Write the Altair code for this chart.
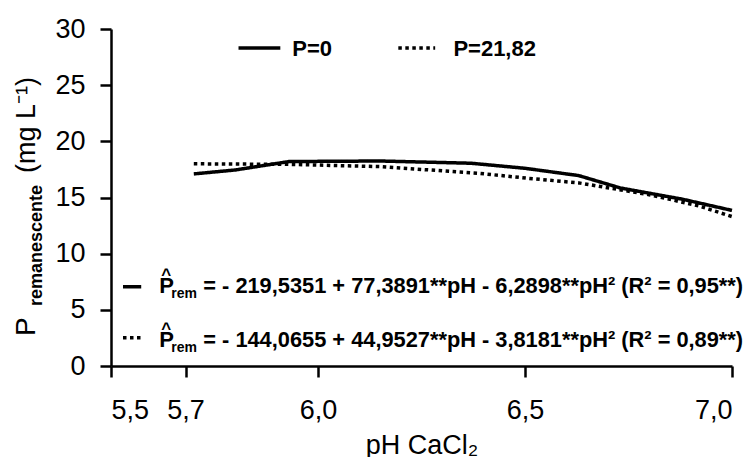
import altair as alt
import pandas as pd

# ---------------- data ----------------
series = ["P=0", "P=21,82"]

ph_p0 = [5.70, 5.80, 5.93, 6.15, 6.37, 6.50, 6.63, 6.73, 6.88, 7.00]
p_p0 = [17.1, 17.45, 18.2, 18.25, 18.05, 17.6, 16.95, 15.85, 14.85, 13.85]

ph_p21 = [5.70, 5.93, 6.15, 6.39, 6.51, 6.63, 6.80, 6.92, 7.00]
p_p21 = [18.0, 17.95, 17.75, 17.15, 16.7, 16.3, 15.25, 14.25, 13.3]

x_ticks = [5.5, 5.68, 6.0, 6.5, 7.0]
y_ticks = [0, 5, 10, 15, 20, 25, 30]

eq_rest = [
    "= - 219,5351 + 77,3891**pH - 6,2898**pH² (R² = 0,95**)",
    "= - 144,0655 + 44,9527**pH - 3,8181**pH² (R² = 0,89**)",
]

# ---------------- tables ----------------
df = pd.concat([
    pd.DataFrame({"pH": ph_p0, "P": p_p0, "serie": series[0]}),
    pd.DataFrame({"pH": ph_p21, "P": p_p21, "serie": series[1]}),
])

# annotation layout (positions in data units)
leg_df = pd.DataFrame({
    "serie": series,
    "x0": [5.808, 6.194], "x1": [5.909, 6.283], "y": [28.31, 28.31],
    "lx": [5.938, 6.327], "ly": [27.6, 27.6],
})
eq_df = pd.DataFrame({
    "serie": series,
    "text": eq_rest,
    "sx0": [5.529, 5.529], "sx1": [5.573, 5.573], "sy": [7.06, 2.52],
    "px": [5.6167, 5.6167], "py": [6.53, 1.72],
    "hx": [5.6336, 5.6336], "hy": [7.65, 2.85],
    "rx": [5.6456, 5.6456], "ry": [6.08, 1.28],
    "ex": [5.7229, 5.7229],
})

FONT = "Liberation Sans"
xs = alt.Scale(domain=[5.5, 7.0], nice=False, zero=False)
ys = alt.Scale(domain=[0, 30], nice=False)
dash = alt.Scale(domain=series, range=[[1, 0], [3.5, 3.5]])

base_axis = dict(
    domainColor="black", domainWidth=2.5, tickColor="black", tickWidth=2.5,
    tickSize=11, labelFont=FONT, labelFontSize=27, labelColor="black",
    grid=False,
)
xaxis = alt.Axis(
    values=x_ticks,
    labelExpr="replace(format(datum.value, '.1f'), '.', ',')",
    labelPadding=20, title="pH CaCl₂", titleFont=FONT, titleFontSize=27,
    titleFontWeight="normal", titleColor="black", titlePadding=9,
    **base_axis)
yaxis = alt.Axis(values=y_ticks, labelPadding=15, title=None, **base_axis)


def X(field):
    return alt.X(field, scale=xs, axis=xaxis, title="pH CaCl₂")


def Y(field):
    return alt.Y(field, scale=ys, axis=yaxis, title=None)


lines = alt.Chart(df).mark_line(strokeWidth=3.5, strokeCap="butt", color="black").encode(
    x=X("pH:Q"), y=Y("P:Q"),
    strokeDash=alt.StrokeDash("serie:N", scale=dash, legend=None),
)

leg_rules = alt.Chart(leg_df).mark_rule(strokeWidth=3.5, strokeCap="butt", color="black").encode(
    x=X("x0:Q"), x2="x1:Q", y=Y("y:Q"),
    strokeDash=alt.StrokeDash("serie:N", scale=dash, legend=None),
)
leg_text = alt.Chart(leg_df).mark_text(
    align="left", baseline="alphabetic", font=FONT, fontSize=22, fontWeight="bold", color="black"
).encode(x=X("lx:Q"), y=Y("ly:Q"), text="serie:N")

eq_rules = alt.Chart(eq_df).mark_rule(strokeWidth=3.5, strokeCap="butt", color="black").encode(
    x=X("sx0:Q"), x2="sx1:Q", y=Y("sy:Q"),
    strokeDash=alt.StrokeDash("serie:N", scale=dash, legend=None),
)
txt = dict(baseline="alphabetic", font=FONT, fontWeight="bold", color="black")
eq_P = alt.Chart(eq_df).mark_text(align="left", fontSize=22, text="P", **txt).encode(
    x=X("px:Q"), y=Y("py:Q"))
eq_hat = alt.Chart(eq_df).mark_text(align="center", fontSize=17, text="^", **txt).encode(
    x=X("hx:Q"), y=Y("hy:Q"))
eq_rem = alt.Chart(eq_df).mark_text(align="left", fontSize=14, text="rem", **txt).encode(
    x=X("rx:Q"), y=Y("ry:Q"))
eq_txt = alt.Chart(eq_df).mark_text(align="left", fontSize=21.8, **txt).encode(
    x=X("ex:Q"), y=Y("py:Q"), text="text:N")

# y-axis title pieces (pixel offsets from the plot origin)
yt = dict(angle=270, align="left", baseline="alphabetic", font=FONT, color="black")
one = pd.DataFrame({"k": [0]})
yt_P = alt.Chart(one).mark_text(text="P", fontSize=28, **yt).encode(
    x=alt.value(-76), y=alt.value(307))
yt_rem = alt.Chart(one).mark_text(text="remanescente", fontSize=18, fontWeight="bold", **yt).encode(
    x=alt.value(-69), y=alt.value(277))
yt_unit = alt.Chart(one).mark_text(text="(mg L⁻¹)", fontSize=27, **yt).encode(
    x=alt.value(-76), y=alt.value(144))

chart = alt.layer(
    lines, leg_rules, leg_text, eq_rules, eq_P, eq_hat, eq_rem, eq_txt, yt_P, yt_rem, yt_unit
).properties(
    width=621, height=337,
    padding={"left": 111, "top": 29, "right": 24, "bottom": 91},
    autosize=alt.AutoSizeParams(type="none"),
    background="white",
).configure_view(stroke=None)

chart.save("out.html", embed_options={"renderer": "svg", "actions": False})
